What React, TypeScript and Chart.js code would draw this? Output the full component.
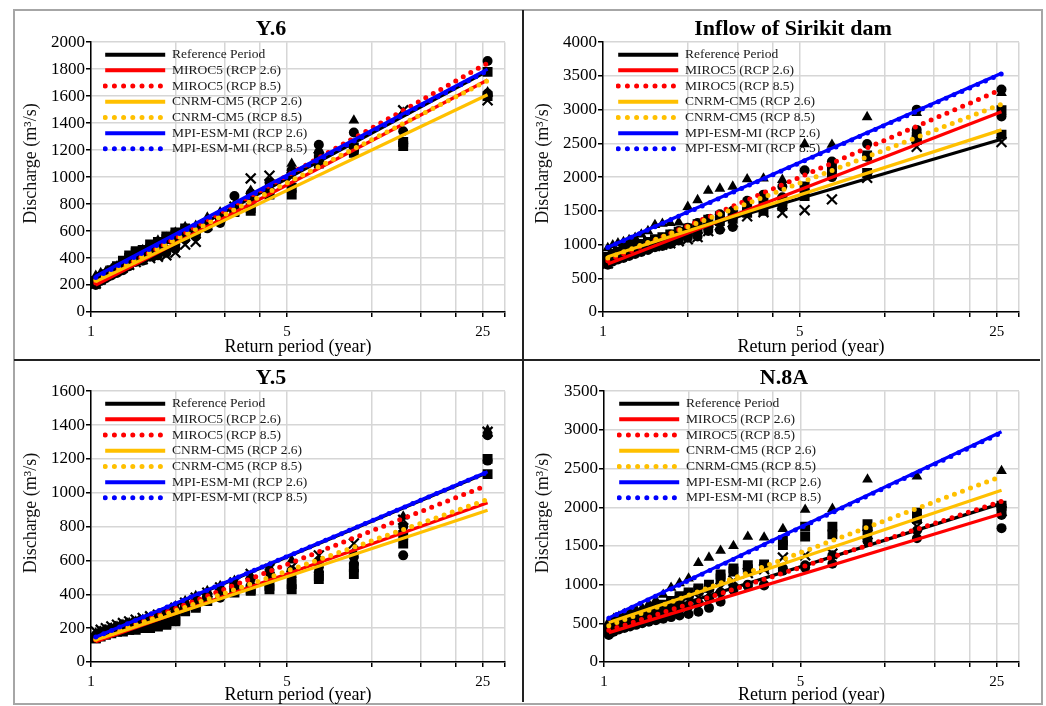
import React, { useEffect, useRef } from 'react';
import { Chart, registerables } from 'chart.js';

Chart.register(...registerables);

const FONT = "'Liberation Serif', 'Times New Roman', serif";

// ---------- shared data ----------
const returnPeriods = [26, 13, 8.667, 6.5, 5.2, 4.333, 3.714, 3.25, 2.889, 2.6, 2.364, 2.167, 2.0, 1.857, 1.733, 1.625, 1.529, 1.444, 1.368, 1.3, 1.238, 1.182, 1.13, 1.083, 1.04];
const lineRange = [1.04, 26];
const xGridValues = [1, 2, 3, 4, 5, 10, 15, 20, 25, 30];
const xLabelValues = [1, 5, 25];

const scenarioLabels = ['Reference Period', 'MIROC5 (RCP 2.6)', 'MIROC5 (RCP 8.5)', 'CNRM-CM5 (RCP 2.6)', 'CNRM-CM5 (RCP 8.5)', 'MPI-ESM-MI (RCP 2.6)', 'MPI-ESM-MI (RCP 8.5)'];
const scenarioColors = ['#000000', '#ff0000', '#ff0000', '#ffc000', '#ffc000', '#0000ff', '#0000ff'];
const scenarioDotted = [false, false, true, false, true, false, true];

// ---------- Y.6 ----------
const y6LineStart = [230, 200, 215, 225, 235, 265, 255];
const y6LineEnd = [1785, 1720, 1845, 1610, 1715, 1800, 1790];
const y6Reference = [1570, 1495, 1250, 1150, 1000, 1010, 990, 780, 700, 640, 520, 500, 440, 420, 410, 400, 390, 370, 350, 330, 310, 290, 270, 240, 210];
const y6Miroc26 = [1620, 1250, 1200, 1180, 930, 900, 840, 760, 660, 620, 560, 540, 470, 440, 420, 410, 380, 370, 340, 310, 290, 270, 250, 230, 200];
const y6Miroc85 = [1860, 1340, 1330, 1240, 1050, 960, 880, 860, 680, 640, 580, 560, 500, 460, 440, 420, 410, 380, 350, 330, 300, 280, 260, 240, 210];
const y6Cnrm26 = [1600, 1230, 1180, 1100, 870, 870, 750, 740, 690, 650, 600, 620, 590, 540, 520, 470, 450, 440, 400, 360, 330, 300, 270, 250, 220];
const y6Cnrm85 = [1780, 1260, 1220, 1130, 920, 880, 770, 750, 700, 660, 610, 600, 570, 560, 510, 500, 460, 450, 420, 380, 340, 310, 280, 260, 230];
const y6Mpi26 = [1630, 1480, 1420, 1200, 1100, 950, 900, 800, 740, 700, 640, 630, 590, 550, 530, 490, 460, 430, 400, 370, 340, 320, 300, 290, 270];

// ---------- Inflow of Sirikit dam ----------
const skLineStart = [850, 710, 760, 820, 800, 960, 955];
const skLineEnd = [2560, 2970, 3300, 2700, 3080, 3540, 3530];
const skReference = [2520, 2450, 1990, 1670, 1510, 1470, 1480, 1420, 1330, 1280, 1200, 1110, 1080, 1050, 1020, 1000, 980, 960, 940, 910, 890, 860, 830, 790, 720];
const skMiroc26 = [2900, 2700, 2300, 2000, 1800, 1700, 1560, 1520, 1260, 1220, 1200, 1120, 1100, 1060, 1010, 980, 960, 920, 890, 860, 830, 800, 780, 750, 700];
const skMiroc85 = [3300, 3000, 2490, 2230, 2100, 1860, 1740, 1650, 1500, 1450, 1380, 1320, 1250, 1200, 1150, 1100, 1060, 1020, 980, 950, 920, 890, 850, 820, 770];
const skCnrm26 = [2630, 2550, 2060, 2050, 1720, 1570, 1500, 1470, 1380, 1350, 1290, 1230, 1180, 1140, 1100, 1070, 1040, 1010, 980, 950, 920, 890, 860, 830, 790];
const skCnrm85 = [2990, 2600, 2320, 2150, 1860, 1650, 1620, 1560, 1450, 1420, 1370, 1300, 1240, 1190, 1150, 1110, 1080, 1040, 1010, 980, 950, 920, 890, 860, 820];
const skMpi26 = [3250, 2950, 2890, 2480, 2490, 1960, 1980, 1970, 1860, 1830, 1800, 1660, 1560, 1330, 1320, 1310, 1290, 1200, 1150, 1100, 1070, 1040, 1020, 990, 950];

// ---------- Y.5 ----------
const y5LineStart = [145, 120, 130, 130, 135, 148, 147];
const y5LineEnd = [1120, 941, 1045, 897, 960, 1124, 1122];
const y5Reference = [1360, 840, 700, 630, 560, 550, 520, 470, 440, 410, 380, 350, 320, 290, 280, 270, 260, 250, 240, 230, 220, 210, 200, 190, 180];
const y5Miroc26 = [1190, 630, 580, 530, 500, 480, 450, 440, 380, 370, 340, 320, 280, 250, 240, 230, 220, 210, 200, 200, 190, 180, 170, 160, 150];
const y5Miroc85 = [1340, 800, 620, 560, 540, 530, 490, 460, 430, 400, 360, 340, 300, 280, 260, 250, 240, 230, 220, 210, 200, 190, 180, 170, 160];
const y5Cnrm26 = [1110, 700, 520, 490, 430, 430, 420, 410, 400, 360, 330, 310, 240, 220, 210, 200, 200, 190, 190, 180, 180, 170, 160, 150, 140];
const y5Cnrm85 = [1200, 750, 560, 510, 460, 450, 430, 430, 410, 380, 320, 300, 250, 230, 220, 210, 200, 200, 190, 190, 180, 180, 170, 160, 140];
const y5Mpi26 = [1370, 860, 650, 600, 600, 560, 510, 480, 450, 420, 390, 360, 330, 300, 280, 260, 250, 240, 230, 220, 210, 200, 190, 180, 170];

// ---------- N.8A ----------
const n8LineStart = [450, 380, 410, 510, 470, 570, 565];
const n8LineEnd = [2050, 1915, 2075, 2220, 2400, 2975, 2965];
const n8Reference = [1950, 1750, 1650, 1400, 1380, 1350, 1200, 1150, 1050, 960, 880, 830, 790, 750, 710, 670, 640, 610, 580, 550, 520, 490, 460, 430, 390];
const n8Miroc26 = [1730, 1600, 1560, 1270, 1220, 1180, 990, 980, 930, 780, 700, 650, 620, 600, 580, 560, 540, 520, 500, 480, 460, 440, 420, 390, 350];
const n8Miroc85 = [1900, 1700, 1600, 1380, 1250, 1210, 1000, 1000, 960, 900, 820, 760, 720, 680, 650, 610, 590, 560, 540, 510, 490, 460, 440, 410, 370];
const n8Cnrm26 = [1980, 1850, 1700, 1650, 1620, 1510, 1230, 1200, 1170, 1080, 960, 920, 860, 800, 750, 700, 660, 620, 590, 560, 530, 500, 480, 450, 410];
const n8Cnrm85 = [2020, 1930, 1780, 1750, 1750, 1570, 1260, 1250, 1210, 1130, 1000, 950, 900, 850, 790, 740, 700, 660, 620, 590, 560, 530, 500, 470, 430];
const n8Mpi26 = [2470, 2400, 2360, 1980, 1970, 1720, 1610, 1620, 1500, 1440, 1350, 1280, 1080, 1020, 960, 870, 800, 750, 700, 680, 650, 620, 590, 560, 520];

const pointLabels = ['Reference Period (data)', 'MIROC5 (RCP 2.6) (data)', 'MIROC5 (RCP 8.5) (data)', 'CNRM-CM5 (RCP 2.6) (data)', 'CNRM-CM5 (RCP 8.5) (data)', 'MPI-ESM-MI (RCP 2.6) (data)'];

// ---------- panel layout (positions / styles only) ----------
type PanelCfg = {
  title: string; yMax: number; yStep: number;
  lineStart: number[]; lineEnd: number[]; points: number[][];
  left: number; top: number; width: number; height: number;
  yAxisWidth: number; padRight: number; xAxisHeight: number;
  titlePadTop: number; titleDx: number; yTitlePad: number; xTitlePadBottom: number;
  legendDx: number; legendDy: number;
};

const panels: PanelCfg[] = [
  { title: 'Y.6', yMax: 2000, yStep: 200, lineStart: y6LineStart, lineEnd: y6LineEnd,
    points: [y6Reference, y6Miroc26, y6Miroc85, y6Cnrm26, y6Cnrm85, y6Mpi26],
    left: 16, top: 12, width: 505, height: 347, yAxisWidth: 75, padRight: 16, xAxisHeight: 47,
    titlePadTop: 3.8, titleDx: 10.5, yTitlePad: 4.2, xTitlePadBottom: 1.2, legendDx: 12, legendDy: 3.5 },
  { title: 'Inflow of Sirikit dam', yMax: 4000, yStep: 500, lineStart: skLineStart, lineEnd: skLineEnd,
    points: [skReference, skMiroc26, skMiroc85, skCnrm26, skCnrm85, skMpi26],
    left: 525, top: 12, width: 515, height: 347, yAxisWidth: 78, padRight: 21, xAxisHeight: 47,
    titlePadTop: 3.8, titleDx: 21, yTitlePad: 7.8, xTitlePadBottom: 1.2, legendDx: 13, legendDy: 3.5 },
  { title: 'Y.5', yMax: 1600, yStep: 200, lineStart: y5LineStart, lineEnd: y5LineEnd,
    points: [y5Reference, y5Miroc26, y5Miroc85, y5Cnrm26, y5Cnrm85, y5Mpi26],
    left: 16, top: 362, width: 505, height: 344, yAxisWidth: 75, padRight: 16, xAxisHeight: 44,
    titlePadTop: 2.8, titleDx: 10.5, yTitlePad: 4.2, xTitlePadBottom: 0.2, legendDx: 12, legendDy: 3.5 },
  { title: 'N.8A', yMax: 3500, yStep: 500, lineStart: n8LineStart, lineEnd: n8LineEnd,
    points: [n8Reference, n8Miroc26, n8Miroc85, n8Cnrm26, n8Cnrm85, n8Mpi26],
    left: 525, top: 362, width: 515, height: 344, yAxisWidth: 79, padRight: 21, xAxisHeight: 44,
    titlePadTop: 2.8, titleDx: 12, yTitlePad: 7.8, xTitlePadBottom: 0.2, legendDx: 13, legendDy: 3.5 },
];

const markerStyles = [
  { style: 'crossRot', radius: 7, borderWidth: 2.2 },
  { style: 'circle', radius: 5, borderWidth: 0 },
  { style: 'circle', radius: 5, borderWidth: 0 },
  { style: 'rect', radius: 7, borderWidth: 0 },
  { style: 'rect', radius: 7, borderWidth: 0 },
  { style: 'triangle', radius: 6.2, borderWidth: 0 },
];

function buildConfig(p: PanelCfg): any {
  const lineSets = scenarioLabels.map((label, i) => ({
    label,
    data: [{ x: lineRange[0], y: p.lineStart[i] }, { x: lineRange[1], y: p.lineEnd[i] }],
    showLine: true,
    borderColor: scenarioColors[i],
    backgroundColor: scenarioColors[i],
    borderWidth: scenarioDotted[i] ? 5 : 3.2,
    borderDash: scenarioDotted[i] ? [0, 8.6] : [],
    borderCapStyle: scenarioDotted[i] ? 'round' : 'butt',
    pointRadius: 0,
    pointHoverRadius: 0,
    order: 7 - i,
  }));
  const pointSets = p.points.map((vals, k) => ({
    label: pointLabels[k],
    data: returnPeriods.map((t, j) => ({ x: t, y: vals[j] })),
    showLine: false,
    pointStyle: markerStyles[k].style,
    pointRadius: markerStyles[k].radius,
    pointHoverRadius: markerStyles[k].radius,
    pointBorderWidth: markerStyles[k].borderWidth,
    pointBackgroundColor: '#000000',
    pointBorderColor: '#000000',
    borderColor: '#000000',
    backgroundColor: '#000000',
    order: 20 + k,
  }));

  const placeBoxes = {
    id: 'placeBoxes',
    afterLayout(chart: any) {
      const ca = chart.chartArea;
      if (!ca) return;
      const lg = chart.legend;
      if (lg) {
        lg.left = ca.left + p.legendDx;
        lg.top = ca.top + p.legendDy;
        lg.right = ca.right;
        lg.bottom = ca.bottom;
      }
      const tb = chart.titleBlock;
      if (tb) {
        tb.left += p.titleDx;
        tb.right += p.titleDx;
      }
    },
  };

  return {
    type: 'scatter',
    data: { datasets: [...lineSets, ...pointSets] },
    plugins: [placeBoxes],
    options: {
      responsive: false,
      animation: false,
      devicePixelRatio: 1,
      events: [],
      layout: { padding: { left: 0, right: p.padRight, top: 0, bottom: 0 } },
      plugins: {
        tooltip: { enabled: false },
        title: {
          display: true,
          text: p.title,
          color: '#000000',
          font: { family: FONT, size: 22, weight: 'bold', lineHeight: 1.2 },
          padding: { top: p.titlePadTop, bottom: 0 },
        },
        legend: {
          display: true,
          position: 'chartArea',
          align: 'start',
          labels: {
            usePointStyle: true,
            pointStyleWidth: 60,
            padding: 2.2,
            color: '#1a1a1a',
            font: { family: FONT, size: 13.5 },
            generateLabels: () => scenarioLabels.map((text, i) => ({
              text,
              datasetIndex: i,
              hidden: false,
              fontColor: '#1a1a1a',
              strokeStyle: scenarioColors[i],
              fillStyle: scenarioColors[i],
              lineWidth: scenarioDotted[i] ? 5 : 4,
              lineDash: scenarioDotted[i] ? [0, 9.2] : [],
              lineCap: scenarioDotted[i] ? 'round' : 'butt',
              pointStyle: 'line',
            })),
          },
        },
      },
      scales: {
        x: {
          type: 'logarithmic',
          min: 1,
          max: 30,
          afterBuildTicks: (axis: any) => { axis.ticks = xGridValues.map((v) => ({ value: v })); },
          afterFit: (axis: any) => { axis.height = p.xAxisHeight; },
          ticks: {
            autoSkip: false,
            maxRotation: 0,
            minRotation: 0,
            padding: 6,
            color: '#000000',
            font: { family: FONT, size: 15 },
            callback: (v: any) => (xLabelValues.includes(Number(v)) ? String(v) : ''),
          },
          grid: { color: '#d6d6d6', lineWidth: 1.5, tickColor: '#000000', tickLength: 5, drawTicks: true },
          border: { display: true, color: '#000000', width: 1.5 },
          title: {
            display: true,
            text: 'Return period (year)',
            color: '#000000',
            font: { family: FONT, size: 18, lineHeight: 1.2 },
            padding: { top: 0, bottom: p.xTitlePadBottom },
          },
        },
        y: {
          type: 'linear',
          min: 0,
          max: p.yMax,
          afterFit: (axis: any) => { axis.width = p.yAxisWidth; },
          ticks: {
            stepSize: p.yStep,
            padding: 1,
            color: '#000000',
            font: { family: FONT, size: 17 },
            callback: (v: any) => String(v),
          },
          grid: { color: '#d6d6d6', lineWidth: 1.5, tickColor: '#000000', tickLength: 5, drawTicks: true },
          border: { display: true, color: '#000000', width: 1.5 },
          title: {
            display: true,
            text: '\u00a0\u00a0\u00a0\u00a0\u00a0\u00a0Discharge (m³/s)',
            color: '#111111',
            font: { family: FONT, size: 18, lineHeight: 1.2 },
            padding: { top: p.yTitlePad, bottom: 0 },
          },
        },
      },
    },
  };
}

function Panel({ cfg }: { cfg: PanelCfg }) {
  const ref = useRef<HTMLCanvasElement | null>(null);
  useEffect(() => {
    if (!ref.current) return;
    const chart = new Chart(ref.current, buildConfig(cfg));
    return () => chart.destroy();
  }, [cfg]);
  return (
    <canvas
      ref={ref}
      width={cfg.width}
      height={cfg.height}
      style={{ position: 'absolute', left: cfg.left, top: cfg.top, width: cfg.width, height: cfg.height }}
    />
  );
}

export default function App() {
  return (
    <div style={{ position: 'absolute', left: 0, top: 0, width: 1046, height: 706, background: '#ffffff' }}>
      <div style={{ position: 'absolute', left: 13, top: 9, width: 1026, height: 692, border: '2px solid #a6a6a6' }} />
      <div style={{ position: 'absolute', left: 522, top: 10, width: 2, height: 692, background: '#222222' }} />
      <div style={{ position: 'absolute', left: 14, top: 359, width: 1026, height: 2, background: '#222222' }} />
      {panels.map((p) => (
        <Panel key={p.title} cfg={p} />
      ))}
    </div>
  );
}
